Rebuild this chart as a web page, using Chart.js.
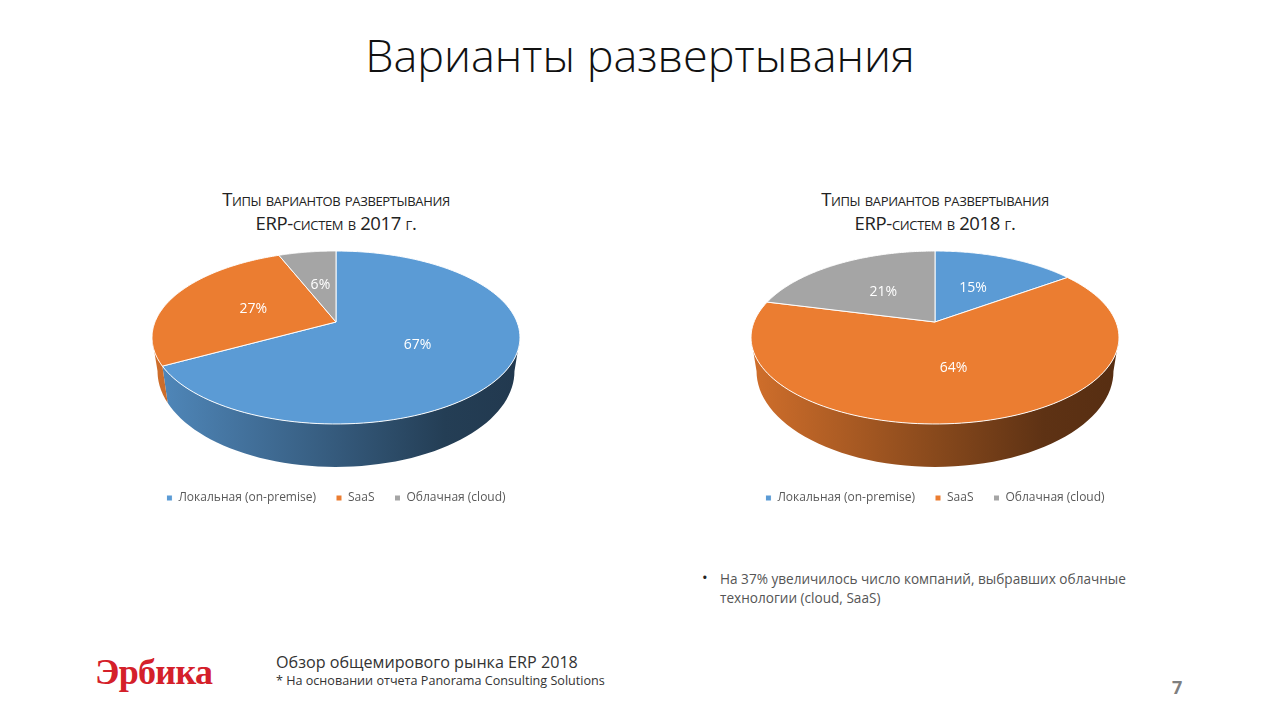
<!DOCTYPE html>
<html lang="ru">
<head>
<meta charset="utf-8">
<title>Варианты развертывания</title>
<script src="https://cdn.jsdelivr.net/npm/chart.js@4/dist/chart.umd.min.js"></script>
<style>
  html, body { margin: 0; padding: 0; background: #fff; }
  body { width: 1280px; height: 720px; position: relative; overflow: hidden; font-family: "Open Sans", sans-serif; }
  .txt { position: absolute; white-space: nowrap; }
  .box { position: absolute; width: 500px; height: 282px; top: 232px; }
  #slideTitle { left: 0; width: 1280px; text-align: center; top: 27px; font-size: 45px; line-height: 56px; color: #111; font-weight: 300; }
  .chartTitle { width: 500px; text-align: center; top: 187px; font-size: 18.5px; line-height: 24px; color: #222; font-variant: small-caps; letter-spacing: -0.35px; }
  #logo { left: 95px; top: 648px; font: bold 36px/48px "Liberation Serif", serif; color: #d4202a; letter-spacing: -0.7px; }
</style>
</head>
<body>
<div class="txt" id="slideTitle">Варианты развертывания</div>

<div class="txt chartTitle" style="left:86px">Типы вариантов развертывания<br>ERP-систем в 2017 г.</div>
<div class="txt chartTitle" style="left:685px">Типы вариантов развертывания<br>ERP-систем в 2018 г.</div>
<div class="box" style="left:86px"><canvas id="pie2017"></canvas></div>
<div class="box" style="left:685px"><canvas id="pie2018"></canvas></div>

<div class="txt" style="left:702px;top:568px;font-size:15px;line-height:18px;color:#222">•</div>
<div class="txt" style="left:720px;top:569px;font-size:13.6px;line-height:19px;color:#555">На 37% увеличилось число компаний, выбравших облачные<br>технологии (cloud, SaaS)</div>

<div class="txt" id="logo">Эрбика</div>
<div class="txt" style="left:276px;top:651px;font-size:16.15px;line-height:22px;color:#333">Обзор общемирового рынка ERP 2018</div>
<div class="txt" style="left:276px;top:672px;font-size:12.6px;line-height:18px;color:#333">* На основании отчета Panorama Consulting Solutions</div>
<div class="txt" style="left:1172px;top:675px;font-size:18px;line-height:24px;font-weight:700;color:#7f7f7f">7</div>

<script>
const categories = ["Локальная (on-premise)", "SaaS", "Облачная (cloud)"];
const values2017 = [67, 27, 6];
const values2018 = [15, 64, 21];
const colors = [[91, 155, 213], [235, 125, 49], [165, 165, 165]];

// look of the tilted disc, in px
const tilt = { rx: 181, ry: 83.7, k: 0.1792, apexY: 90, wallY: 32, wallRx: 0.97, wallRy: 1.107 };
const frontStart = Math.acos(-tilt.k);           // angle where the wall comes into view
const frontEnd = 2 * Math.PI - frontStart;

const rgb = (c, f) => `rgb(${Math.round(c[0] * f)},${Math.round(c[1] * f)},${Math.round(c[2] * f)})`;

// t: clockwise from 12 o'clock, r: 0..1
function topPoint(cx, cy, t, r) {
  const x = Math.sin(t) * r, y = -Math.cos(t) * r, w = 1 - tilt.k * y;
  return [cx + tilt.rx * x / w, cy + tilt.ry * y / w];
}
function wallPoint(cx, cy, t) {
  const p = topPoint(0, 0, t, 1);
  return [cx + p[0] * tilt.wallRx, cy + tilt.wallY + p[1] * tilt.wallRy];
}

const pie3d = {
  id: "pie3d",
  beforeDatasetDraw(chart, args) {
    const ctx = chart.ctx;
    const arcs = chart.getDatasetMeta(args.index).data;
    const values = chart.data.datasets[args.index].data;
    const cy = chart.chartArea.top + tilt.apexY;
    const turn = a => a + Math.PI / 2;

    // walls
    arcs.forEach((arc, i) => {
      const cx = arc.x;
      const a = Math.max(turn(arc.startAngle), frontStart);
      const b = Math.min(turn(arc.endAngle), frontEnd);
      if (b <= a) return;
      const g = ctx.createLinearGradient(cx - tilt.rx, 0, cx + tilt.rx, 0);
      g.addColorStop(0, rgb(colors[i], 0.88));
      g.addColorStop(0.5, rgb(colors[i], 0.58));
      g.addColorStop(0.8, rgb(colors[i], 0.4));
      g.addColorStop(1, rgb(colors[i], 0.37));
      ctx.beginPath();
      const n = 60;
      for (let s = 0; s <= n; s++) {
        const p = topPoint(cx, cy, a + (b - a) * s / n, 1);
        s ? ctx.lineTo(p[0], p[1]) : ctx.moveTo(p[0], p[1]);
      }
      for (let s = n; s >= 0; s--) {
        const p = wallPoint(cx, cy, a + (b - a) * s / n);
        ctx.lineTo(p[0], p[1]);
      }
      ctx.closePath();
      ctx.fillStyle = g;
      ctx.fill();
    });

    // top of the disc
    arcs.forEach((arc, i) => {
      const cx = arc.x;
      const a = turn(arc.startAngle), b = turn(arc.endAngle);
      ctx.beginPath();
      ctx.moveTo(cx, cy);
      const n = 120;
      for (let s = 0; s <= n; s++) {
        const p = topPoint(cx, cy, a + (b - a) * s / n, 1);
        ctx.lineTo(p[0], p[1]);
      }
      ctx.closePath();
      ctx.fillStyle = rgb(colors[i], 1);
      ctx.fill();
      ctx.strokeStyle = "rgba(255,255,255,0.95)";
      ctx.lineWidth = 1;
      ctx.stroke();
    });

    // value labels
    ctx.font = '14px "Open Sans", sans-serif';
    ctx.fillStyle = "#fff";
    ctx.textAlign = "center";
    ctx.textBaseline = "middle";
    arcs.forEach((arc, i) => {
      const mid = turn((arc.startAngle + arc.endAngle) / 2);
      const p = topPoint(arc.x, cy + 1, mid, 0.5);
      ctx.fillText(values[i] + "%", p[0], p[1]);
    });
    return false;
  }
};

function makePie(id, values) {
  return new Chart(document.getElementById(id), {
    type: "pie",
    plugins: [pie3d],
    data: {
      labels: categories,
      datasets: [{ data: values, backgroundColor: colors.map(c => rgb(c, 1)), borderColor: "#fff", borderWidth: 1 }]
    },
    options: {
      responsive: false,
      animation: false,
      layout: { padding: 0 },
      plugins: {
        tooltip: { enabled: false },
        legend: {
          position: "bottom",
          labels: {
            color: "#595959",
            font: { family: "Open Sans", size: 12 },
            boxWidth: 6,
            boxHeight: 6,
            padding: 20
          }
        }
      }
    }
  });
}

for (const id of ["pie2017", "pie2018"]) {
  const c = document.getElementById(id);
  c.width = 500;
  c.height = 282;
}
makePie("pie2017", values2017);
makePie("pie2018", values2018);
</script>
</body>
</html>
